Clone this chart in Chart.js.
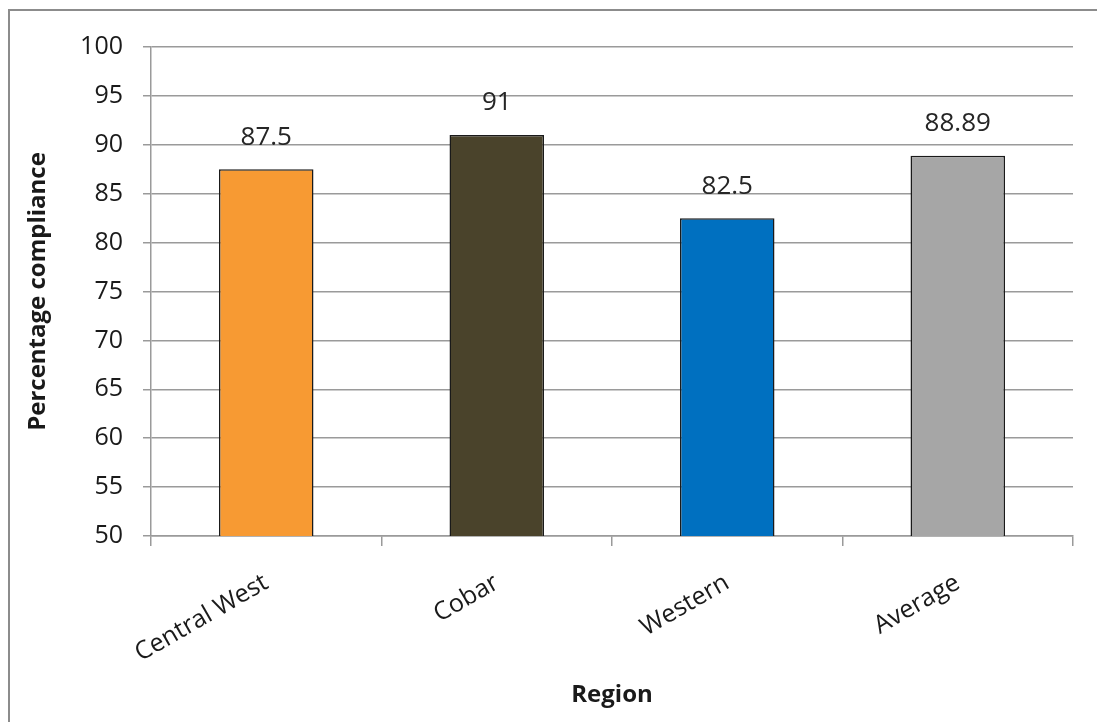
<!DOCTYPE html>
<html>
<head>
<meta charset="utf-8">
<script src="https://cdn.jsdelivr.net/npm/chart.js@4/dist/chart.umd.min.js"></script>
<style>
  html, body { margin: 0; padding: 0; background: #fff; }
  #wrap { position: relative; width: 1097px; height: 722px; overflow: hidden; }
  #frame { position: absolute; left: 8px; top: 9px; width: 1200px; height: 800px;
           border-left: 2px solid #8c8c8c; border-top: 2px solid #8c8c8c; }
  canvas { position: absolute; left: 0; top: 0; }
</style>
</head>
<body>
<div id="wrap">
  <div id="frame"></div>
  <canvas id="c" width="1097" height="722"></canvas>
</div>
<script>
// data
const regions = ["Central West", "Cobar", "Western", "Average"];
const compliance = [87.5, 91, 82.5, 88.89];
const barColours = ["#F79A33", "#4A432B", "#0070C0", "#A6A6A6"];
const yTicks = [50, 55, 60, 65, 70, 75, 80, 85, 90, 95, 100];

const fontName = "'Open Sans', 'DejaVu Sans', sans-serif";

// value labels above bars
const valueLabels = {
  id: "valueLabels",
  afterDatasetsDraw(chart) {
    const ctx = chart.ctx;
    const meta = chart.getDatasetMeta(0);
    ctx.save();
    ctx.font = "26px " + fontName;
    ctx.fillStyle = "#262626";
    ctx.textAlign = "center";
    ctx.textBaseline = "middle";
    meta.data.forEach((bar, i) => {
      ctx.fillText(String(compliance[i]), bar.x, bar.y - 32);
    });
    ctx.restore();
  }
};

const ctx = document.getElementById("c").getContext("2d");
new Chart(ctx, {
  type: "bar",
  data: {
    labels: regions,
    datasets: [{
      data: compliance,
      backgroundColor: barColours,
      borderColor: "#1a1a1a",
      borderWidth: 1.5,
      borderSkipped: "bottom",
      categoryPercentage: 1,
      barPercentage: 0.41
    }]
  },
  options: {
    responsive: false,
    animation: false,
    layout: { padding: { left: 0, top: 47, right: 24, bottom: 0 } },
    plugins: {
      legend: { display: false },
      tooltip: { enabled: false }
    },
    scales: {
      x: {
        afterFit(scale) { scale.height = 186; },
        grid: {
          offset: true,
          drawOnChartArea: false,
          color: "#9a9a9a",
          tickLength: 10,
          lineWidth: 1.5
        },
        border: { color: "#9a9a9a", width: 1.5 },
        ticks: {
          autoSkip: false,
          minRotation: 30,
          maxRotation: 30,
          padding: 22,
          color: "#1a1a1a",
          font: { family: fontName, size: 25 }
        },
        title: {
          display: true,
          text: "Region",
          color: "#1a1a1a",
          font: { family: fontName, size: 24, weight: "bold" },
          padding: { top: 0, bottom: 12 }
        }
      },
      y: {
        min: 50,
        max: 100,
        afterFit(scale) { scale.width = 151; },
        afterBuildTicks(scale) { scale.ticks = yTicks.map(v => ({ value: v })); },
        grid: {
          color: "#9a9a9a",
          tickLength: 8,
          lineWidth: 1.5
        },
        border: { color: "#9a9a9a", width: 1.5 },
        ticks: {
          padding: 20,
          color: "#1a1a1a",
          font: { family: fontName, size: 25 }
        },
        title: {
          display: true,
          text: "Percentage compliance",
          color: "#1a1a1a",
          font: { family: fontName, size: 24, weight: "bold" },
          padding: { top: 24, bottom: 0 }
        }
      }
    }
  },
  plugins: [valueLabels]
});
</script>
</body>
</html>
